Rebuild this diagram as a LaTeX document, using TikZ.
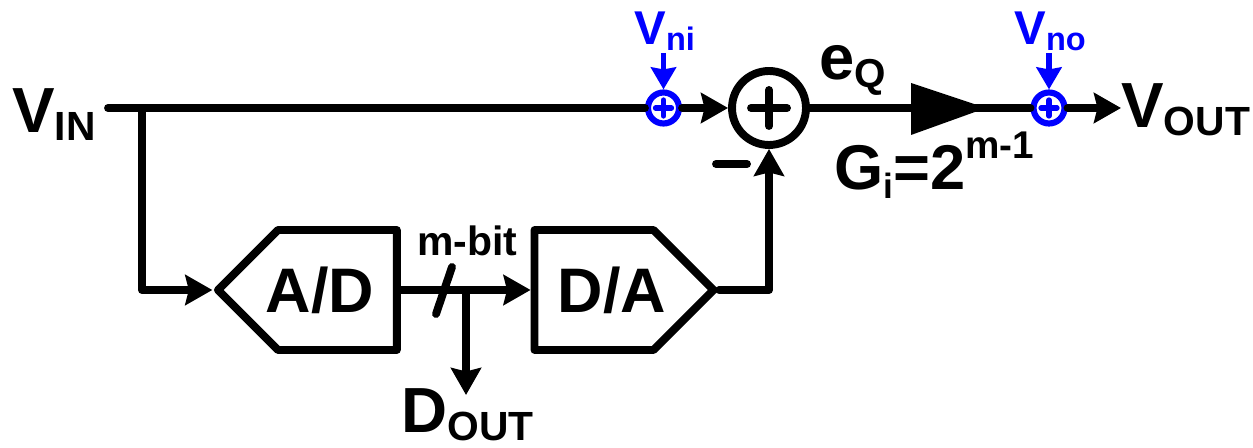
\documentclass[tikz,border=0pt]{standalone}
\usepackage{fontspec}
\setmainfont{Liberation Sans}[BoldFont={Liberation Sans Bold}]
\usetikzlibrary{arrows.meta,positioning,shapes.symbols,calc}
\definecolor{noiseblue}{rgb}{0.00,0.00,1.00}
% labels with a lowered index
\newcommand{\siglabel}[2]{{\fontsize{36.3}{36}\selectfont #1}\raisebox{-4pt}{\fontsize{23.2}{23}\selectfont #2}}
\newcommand{\noiselabel}[2]{{\fontsize{27}{27}\selectfont #1}\raisebox{-3pt}{\fontsize{18.5}{18}\selectfont #2}}

\begin{document}
\begin{tikzpicture}[x=0.02cm,y=-0.02cm,every node/.style={font=\bfseries,inner sep=0pt},
    wire/.style={line width=4.5pt,line cap=round,line join=round},
    flow/.style={wire,-{Stealth[length=0.54cm,width=0.6cm,inset=0.07cm]}},
    noiseflow/.style={line width=2.9pt,noiseblue,-{Stealth[length=0.44cm,width=0.5cm,inset=0.04cm]}},
    plussign/.style 2 args={path picture={
        \draw[line width=#2,line cap=round]
          ($(path picture bounding box.center)+(-#1,0)$) -- ($(path picture bounding box.center)+(#1,0)$)
          ($(path picture bounding box.center)+(0,-#1)$) -- ($(path picture bounding box.center)+(0,#1)$);}},
    sumnode/.style={circle,draw,fill=white,line width=4.5pt,minimum size=1.48cm,plussign={18}{4.5pt}},
    noisenode/.style={circle,draw=noiseblue,fill=white,text=noiseblue,line width=3.5pt,minimum size=0.62cm,
                      plussign={8}{3pt}},
    conv/.style={signal,draw,line width=4.5pt,line join=round,signal pointer angle=90,
                 minimum height=2.4cm},
    convtext/.style={font=\bfseries\fontsize{35.8}{36}\selectfont}]
  \useasboundingbox (0,0) rectangle (1253,448);
  \node[sumnode] (sum) at (769,108) {};
  \node[noisenode,left=0.92cm of sum] (ni) {};
  \node[noisenode] (no) at (1049,108) {};
  \coordinate (tap) at (142,108);
  \node[anchor=base west] (vin) at (12,133) {\siglabel{V}{IN}};
  \node[anchor=base west] (vout) at (1121,128) {\siglabel{V}{OUT}};
  \node[anchor=base west,text=noiseblue] (vni) at (634,45) {\noiselabel{V}{ni}};
  \node[anchor=base west,text=noiseblue] (vno) at (1014,45) {\noiselabel{V}{no}};
  \coordinate (nitop) at (ni |- 0,53);
  \coordinate (notop) at (no |- 0,53);
  \node[conv,signal to=west,minimum width=3.58cm,label={[convtext,xshift=-0.35cm]center:A/D}] (adc) at (337.4,290) {};
  \node[conv,signal to=east,minimum width=3.58cm,label={[convtext,xshift=0.36cm]center:D/A}] (dac) at (594,290) {};
  \coordinate (branch) at (466,290);
  \node[anchor=base west] (dout) at (401,433) {\siglabel{D}{OUT}};
  \coordinate (doutend) at (466,395);
  \node[anchor=base west,font=\bfseries\fontsize{23.3}{24}\selectfont] (mbit) at (417,256) {m-bit};
  \coordinate (slashtop) at (452,267);
  \coordinate (slashbot) at (436,314);
  \coordinate (corner) at (769,290);
  \coordinate (minusl) at (716,164);
  \coordinate (minusr) at (747,164);
  \coordinate (vinend) at (108,108);
  \coordinate (gaintip) at (986,108);
  \coordinate (gaintop) at (911,83);
  \coordinate (gainbot) at (911,135);
  \draw[wire] (vinend) -- (ni.west);
  \draw[flow] (ni.east) -- (sum.west);
  \draw[wire] (sum.east) -- (gaintip) -- (no.west);
  \draw[flow] (no.east) -- (no.east -| vout.west);
  \fill (gaintop) -- (gaintip) -- (gainbot) -- cycle;
  \draw[flow] (tap) |- (adc.west);
  \draw[flow] (adc.east) -- (dac.west);
  \draw[flow] (branch) -- (doutend);
  \draw[wire] (slashbot) -- (slashtop);
  \draw[flow] (dac.east) -- (corner) -- (sum.south);
  \draw[wire] (minusl) -- (minusr);
  \draw[noiseflow] (nitop) -- (ni.north);
  \draw[noiseflow] (notop) -- (no.north);
  \node[anchor=base west,font=\bfseries] (eq) at (819,80) {{\fontsize{36}{36}\selectfont e}\raisebox{-4pt}{\fontsize{23}{23}\selectfont Q}};
  \node[anchor=base west,font=\bfseries] (gain) at (834,190) {{\fontsize{36}{36}\selectfont G}\raisebox{-5pt}{\fontsize{20}{20}\selectfont i}{\fontsize{36}{36}\selectfont =2}\raisebox{18pt}{\fontsize{22}{22}\selectfont m-1}};
\end{tikzpicture}
\end{document}
